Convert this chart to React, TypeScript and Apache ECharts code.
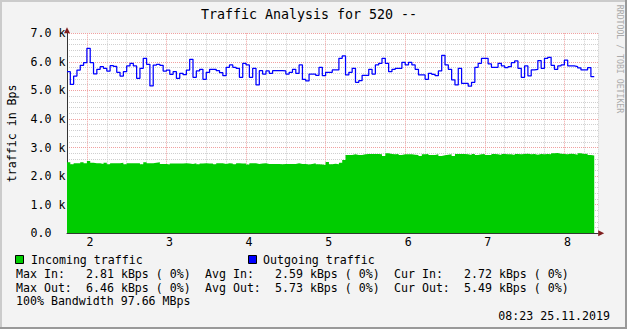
import React, { useEffect, useRef } from 'react';
import * as echarts from 'echarts';

const TITLE = 'Traffic Analysis for 520 --';
const Y_NAME = 'traffic in Bps';
const WATERMARK = 'RRDTOOL / TOBI OETIKER';
const DATE_TEXT = '08:23 25.11.2019';
const BANDWIDTH_TEXT = '100% Bandwidth 97.66 MBps';
const LEGEND_IN = 'Incoming traffic';
const LEGEND_OUT = 'Outgoing traffic';

// time axis (hours), one sample every 2.5 minutes
const START_HOUR = 1.75;
const STEP_HOURS = 1 / 24;
const X_MIN = 1.75;
const X_MAX = 8.425;
const Y_MIN = 0;
const Y_MAX = 7000;

const incoming = [
  2484, 2415, 2450, 2450, 2484, 2450, 2530, 2472, 2450, 2450,
  2427, 2472, 2415, 2450, 2450, 2450, 2472, 2415, 2450, 2450,
  2450, 2450, 2415, 2484, 2450, 2450, 2472, 2484, 2427, 2427,
  2404, 2440, 2440, 2440, 2440, 2450, 2440, 2427, 2450, 2415,
  2440, 2450, 2440, 2440, 2415, 2450, 2450, 2427, 2450, 2440,
  2415, 2450, 2440, 2440, 2404, 2450, 2450, 2427, 2440, 2450,
  2427, 2427, 2427, 2427, 2415, 2427, 2427, 2427, 2427, 2450,
  2427, 2427, 2404, 2427, 2450, 2415, 2404, 2392, 2497, 2420,
  2430, 2420, 2472, 2566,
  2741, 2741, 2765, 2741, 2741, 2765, 2776, 2776, 2776, 2776,
  2765, 2706, 2800, 2776, 2765, 2776, 2741, 2765, 2765, 2765,
  2753, 2741, 2706, 2765, 2776, 2741, 2741, 2765, 2706, 2730,
  2753, 2765, 2706, 2776, 2776, 2776, 2765, 2741, 2776, 2741,
  2765, 2776, 2741, 2741, 2776, 2765, 2741, 2776, 2765, 2765,
  2741, 2776, 2765, 2776, 2788, 2765, 2776, 2753, 2776, 2765,
  2776, 2765, 2800, 2810, 2788, 2776, 2765, 2788, 2776, 2753,
  2800, 2776, 2788, 2741, 2720,
];

const outgoing = [
  5657, 5215, 5505, 5715, 5880, 5970, 6474, 5970, 5576, 5740,
  5832, 5775, 5680, 5868, 5840, 5636, 5505, 5657, 5856, 5950,
  5856, 5425, 5775, 6125, 5915, 5156, 5890, 5915, 5880, 5680,
  5715, 5565, 5657, 5425, 5600, 5550, 5715, 6090, 5460,
  5681, 5740, 5389, 5634, 5740, 5740, 5693, 5622, 5518, 5810,
  5891, 5810, 5774, 5459, 5949, 5891, 5459, 5774, 5192, 5693,
  5575, 5681, 5598, 5693, 5693, 5693, 5681, 5575, 5634, 5740,
  5598, 5891, 5389, 5331, 5575, 5575, 5529, 5810, 5518, 5634,
  5634, 5716, 5716, 6125, 6207, 5541, 5634, 5774, 5284, 5343,
  5529, 5529, 5740, 5575, 5891, 5949, 6125, 5949, 5657, 5740,
  5774, 5774, 5984, 5891, 5984, 5891, 5740, 5541, 5541, 5389,
  5598, 5564, 5518, 5681, 6230, 5891, 5740, 5366, 5192,
  5774, 5245, 5245, 5151, 5284, 5810, 5949, 6125, 6125, 5926,
  5810, 5810, 5949, 5856, 5798, 5833, 5973, 6032, 5774, 5459,
  5856, 5506, 5716, 5740, 6044, 5774, 6125, 6160, 5880, 5740,
  5856, 5891, 6060, 5856, 5856, 5833, 5786, 5716, 5716, 5798,
  5483,
];

const statRows = [
  [['Max In:', '2.81 kBps ( 0%)'], ['Avg In:', '2.59 kBps ( 0%)'], ['Cur In:', '2.72 kBps ( 0%)']],
  [['Max Out:', '6.46 kBps ( 0%)'], ['Avg Out:', '5.73 kBps ( 0%)'], ['Cur Out:', '5.49 kBps ( 0%)']],
];

const MONO = '"DejaVu Sans Mono", monospace';
const FS = 11.6;
const CW = 7.0;

function toSteps(vals: number[]) {
  const pts: number[][] = vals.map((v, i) => [START_HOUR + i * STEP_HOURS, v]);
  pts.push([START_HOUR + vals.length * STEP_HOURS, vals[vals.length - 1]]);
  return pts;
}

function txt(text: string, x: number, y: number, opts: any = {}) {
  const align = opts.align || 'left';
  return {
    type: 'text',
    x,
    y,
    rotation: opts.rotation || 0,
    silent: true,
    z: 10,
    style: {
      text,
      x: 0,
      y: 0,
      font: `${opts.size || FS}px ${MONO}`,
      fill: opts.color || '#000',
      align,
      textAlign: align,
      verticalAlign: 'middle',
      textVerticalAlign: 'middle',
    },
  };
}

export default function App() {
  const ref = useRef<HTMLDivElement>(null);
  useEffect(() => {
    document.body.style.margin = '0';
    if (!ref.current) return;
    const chart = echarts.init(ref.current, null, { renderer: 'svg' });

    const GRID_L = 67;
    const GRID_T = 33.3;
    const GRID_R = 28.8;
    const GRID_B = 95.7;
    const plotBottom = 329 - GRID_B;
    const plotRight = 627 - GRID_R;

    const RED = '#f0a0a0';
    const GRAY = '#cfcfcf';

    const graphics: any[] = [
      // bevel border
      { type: 'rect', shape: { x: 0, y: 0, width: 627, height: 2 }, style: { fill: '#cbcbcb' }, silent: true },
      { type: 'rect', shape: { x: 0, y: 0, width: 2, height: 329 }, style: { fill: '#cbcbcb' }, silent: true },
      { type: 'rect', shape: { x: 625, y: 0, width: 2, height: 329 }, style: { fill: '#999' }, silent: true },
      { type: 'rect', shape: { x: 0, y: 327, width: 627, height: 2 }, style: { fill: '#999' }, silent: true },
      txt(TITLE, 309, 14.5, { align: 'center', size: 13.3 }),
      txt(Y_NAME, 12, (GRID_T + plotBottom) / 2, { align: 'center', rotation: Math.PI / 2 }),
      txt(WATERMARK, 620, 59, { align: 'center', rotation: -Math.PI / 2, size: 8.2, color: '#aaa' }),
      // arrows
      {
        type: 'polygon',
        shape: { points: [[GRID_L - 3, GRID_T], [GRID_L + 3, GRID_T], [GRID_L, GRID_T - 6]] },
        style: { fill: '#7f1f1f' },
        silent: true, z: 11,
      },
      {
        type: 'polygon',
        shape: { points: [[plotRight, plotBottom - 3], [plotRight, plotBottom + 3], [plotRight + 6, plotBottom]] },
        style: { fill: '#7f1f1f' },
        silent: true, z: 11,
      },
      // legend squares
      { type: 'rect', shape: { x: 15.5, y: 255.5, width: 8, height: 8 }, style: { fill: '#00cc00', stroke: '#000', lineWidth: 1 }, silent: true, z: 10 },
      { type: 'rect', shape: { x: 248.5, y: 255.5, width: 8, height: 8 }, style: { fill: '#0000ff', stroke: '#000', lineWidth: 1 }, silent: true, z: 10 },
      txt(LEGEND_IN, 31, 259.5),
      txt(LEGEND_OUT, 263, 259.5),
      txt(BANDWIDTH_TEXT, 16, 301.3),
      txt(DATE_TEXT, 610, 315.5, { align: 'right' }),
    ];
    const colX = [16, 205, 394];
    statRows.forEach((row, r) => {
      const y = 273.5 + r * 14;
      row.forEach(([label, value], c) => {
        graphics.push(txt(label, colX[c], y));
        graphics.push(txt(value, colX[c] + 10 * CW, y));
      });
    });

    chart.setOption({
      animation: false,
      backgroundColor: '#f3f3f3',
      grid: {
        left: GRID_L,
        top: GRID_T,
        right: GRID_R,
        bottom: GRID_B,
        show: true,
        backgroundColor: '#ffffff',
        borderWidth: 0,
        containLabel: false,
        outerBoundsMode: 'none',
      },
      xAxis: {
        type: 'value',
        min: X_MIN,
        max: X_MAX,
        interval: 0.25,
        axisLine: { show: true, onZero: false, lineStyle: { color: '#333', width: 1 } },
        axisTick: { show: false },
        axisLabel: {
          show: true,
          margin: 3,
          fontFamily: MONO,
          fontSize: FS,
          color: '#000',
          padding: [0, 0, 0, 6],
          showMinLabel: true,
          showMaxLabel: true,
          formatter: (v: number) => (Math.abs(v - Math.round(v)) < 1e-6 ? String(Math.round(v)) : ''),
        },
        splitLine: {
          show: true,
          lineStyle: { color: [GRAY, RED, GRAY, GRAY], type: [1, 1], width: 1 },
        },
      },
      yAxis: {
        type: 'value',
        min: Y_MIN,
        max: Y_MAX,
        interval: 200,
        axisLine: { show: true, lineStyle: { color: '#333', width: 1 } },
        axisTick: { show: false },
        axisLabel: {
          show: true,
          align: 'left',
          margin: 36.5,
          fontFamily: MONO,
          fontSize: FS,
          color: '#000',
          formatter: (v: number) =>
            v % 1000 === 0 ? (v === 0 ? '0.0' : (v / 1000).toFixed(1) + ' k') : '',
        },
        splitLine: {
          show: true,
          lineStyle: { color: [RED, GRAY, GRAY, GRAY, GRAY], type: [1, 1], width: 1 },
        },
      },
      series: [
        {
          name: LEGEND_IN,
          type: 'line',
          step: 'end',
          data: toSteps(incoming),
          symbol: 'none',
          lineStyle: { width: 0, color: '#00cc00' },
          itemStyle: { color: '#00cc00' },
          areaStyle: { color: '#00cc00', opacity: 1 },
          z: 2,
        },
        {
          name: LEGEND_OUT,
          type: 'line',
          step: 'end',
          data: toSteps(outgoing),
          symbol: 'none',
          lineStyle: { width: 1.25, color: '#0000ff' },
          itemStyle: { color: '#0000ff' },
          z: 3,
        },
      ],
      graphic: graphics,
    });
    return () => chart.dispose();
  }, []);
  return <div ref={ref} style={{ width: 627, height: 329 }} />;
}
